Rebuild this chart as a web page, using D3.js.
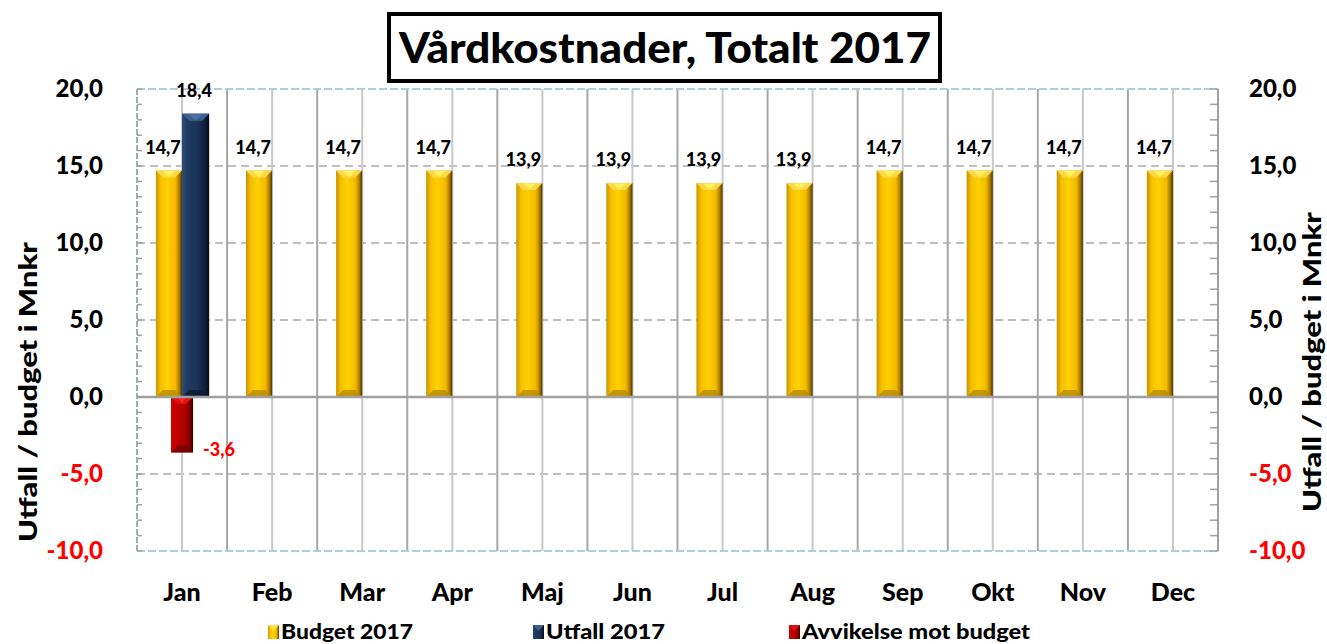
<!DOCTYPE html>
<html><head><meta charset="utf-8">
<script src="https://cdn.jsdelivr.net/npm/d3@7"></script>
<style>
html,body{margin:0;padding:0;background:#fff;}
text{font-family:Lato,"Open Sans",sans-serif;font-weight:900;}
</style></head>
<body><svg id="chart" width="1327" height="644"></svg>
<script>
const months = ["Jan","Feb","Mar","Apr","Maj","Jun","Jul","Aug","Sep","Okt","Nov","Dec"];
const budget2017 = [14.7,14.7,14.7,14.7,13.9,13.9,13.9,13.9,14.7,14.7,14.7,14.7];
const utfall2017 = [18.4,null,null,null,null,null,null,null,null,null,null,null];
const avvikelse = [-3.6,null,null,null,null,null,null,null,null,null,null,null];
const yTicks = [-10,-5,0,5,10,15,20];
const titleText = "Vårdkostnader, Totalt 2017";
const yTitle = "Utfall / budget i Mnkr";
const legendNames = ["Budget 2017","Utfall 2017","Avvikelse mot budget"];

const svg = d3.select("#chart");
const L = 137, R = 1218, T = 89, B = 551;
const x = d3.scaleBand().domain(months).range([L, R]).padding(0);
const y = d3.scaleLinear().domain([-10, 20]).range([B, T]);
const fmt = v => d3.format(".1f")(v).replace(".", ",").replace("\u2212", "-");

const defs = svg.append("defs");
function grad(id, stops){
  const g = defs.append("linearGradient").attr("id", id).attr("x1","0").attr("x2","1").attr("y1","0").attr("y2","0");
  stops.forEach(s => g.append("stop").attr("offset", s[0]).attr("stop-color", s[1]));
}
grad("gGold", [[0,"#c99400"],[0.18,"#f5c000"],[0.45,"#ffd000"],[0.75,"#f2b900"],[0.9,"#a57800"],[1,"#4a3400"]]);
grad("gNavy", [[0,"#2a4a74"],[0.2,"#1f3b62"],[0.6,"#1a3256"],[0.85,"#0f1f38"],[1,"#050b16"]]);
grad("gRed", [[0,"#d00000"],[0.2,"#c40000"],[0.6,"#b00000"],[0.85,"#800000"],[1,"#3a0000"]]);

const grid = svg.append("g");
yTicks.filter(v => v !== 0 && v !== 20 && v !== -10).forEach(v => {
  grid.append("line").attr("x1", L).attr("x2", R).attr("y1", y(v)).attr("y2", y(v))
    .attr("stroke", "#bfbfbf").attr("stroke-width", 2).attr("stroke-dasharray", "8,5");
});
months.forEach((m, i) => {
  if (i > 0) grid.append("line").attr("x1", x(m)).attr("x2", x(m)).attr("y1", T).attr("y2", B)
      .attr("stroke", "#a6a6a6").attr("stroke-width", 2);
  const c = x(m) + x.bandwidth() / 2;
  grid.append("line").attr("x1", c).attr("x2", c).attr("y1", T).attr("y2", B)
      .attr("stroke", "#c8c8c8").attr("stroke-width", 2);
});
[T, B].forEach(yy => grid.append("line").attr("x1", L).attr("x2", R).attr("y1", yy).attr("y2", yy)
  .attr("stroke", "#a9d0dc").attr("stroke-width", 2).attr("stroke-dasharray", "8,3"));
grid.append("line").attr("x1", L).attr("x2", L).attr("y1", T).attr("y2", B)
  .attr("stroke", "#a0aeb4").attr("stroke-width", 2).attr("stroke-dasharray", "6,2");
grid.append("line").attr("x1", R).attr("x2", R).attr("y1", T).attr("y2", B)
  .attr("stroke", "#a0a0a0").attr("stroke-width", 2);
d3.range(-10, 21, 1).forEach(v => {
  grid.append("line").attr("x1", L).attr("x2", L + 5).attr("y1", y(v)).attr("y2", y(v)).attr("stroke", "#a0a0a0").attr("stroke-width", 1.5);
  grid.append("line").attr("x1", R - 8).attr("x2", R).attr("y1", y(v)).attr("y2", y(v)).attr("stroke", "#a0a0a0").attr("stroke-width", 1.5);
});

function bar(g, x0, w, v, fillId, topCol, botCol, midCol) {
  const y0 = y(Math.max(0, v)), y1 = y(Math.min(0, v));
  const bv = Math.min(7, w / 3.2);
  g.append("rect").attr("x", x0).attr("y", y0).attr("width", w).attr("height", y1 - y0).attr("fill", `url(#${fillId})`);
  g.append("polygon").attr("points", [[x0,y0],[x0+w,y0],[x0+w-bv,y0+bv],[x0+bv,y0+bv]].map(p=>p.join(",")).join(" "))
    .attr("fill", topCol);
  g.append("polygon").attr("points", [[x0+bv,y0+0.5],[x0+w-bv,y0+0.5],[x0+w/2,y0+bv]].map(p=>p.join(",")).join(" "))
    .attr("fill", midCol);
  g.append("polygon").attr("points", [[x0,y1],[x0+w,y1],[x0+w-bv,y1-bv],[x0+bv,y1-bv]].map(p=>p.join(",")).join(" "))
    .attr("fill", botCol).attr("opacity", 0.8);
}

const bars = svg.append("g");
const bw = x.bandwidth() * 0.29;
const bwRed = x.bandwidth() * 0.245;
svg.append("line").attr("x1", L).attr("x2", R).attr("y1", y(0)).attr("y2", y(0))
  .attr("stroke", "#a0a0a0").attr("stroke-width", 2.5);

months.forEach((m, i) => {
  const c = x(m) + x.bandwidth() / 2;
  bar(bars, c - bw, bw, budget2017[i], "gGold", "#ffd84a", "#b88a00", "#fff25c");
  if (utfall2017[i] != null) bar(bars, c, bw + 1, utfall2017[i], "gNavy", "#3d5f8e", "#0d1a2e", "#4d70a3");
});
months.forEach((m, i) => {
  if (avvikelse[i] == null) return;
  const c = x(m) + x.bandwidth() / 2;
  bar(bars, c - bwRed / 2, bwRed, avvikelse[i], "gRed", "#e01010", "#700000", "#ff2020");
});

const lab = svg.append("g").attr("font-size", 18).attr("text-anchor", "middle");
months.forEach((m, i) => {
  const c = x(m) + x.bandwidth() / 2;
  lab.append("text").attr("x", c - bw / 2 - 6).attr("y", y(budget2017[i]) - 17).text(fmt(budget2017[i]));
  if (utfall2017[i] != null) lab.append("text").attr("x", c + bw / 2 - 1).attr("y", y(utfall2017[i]) - 17).text(fmt(utfall2017[i]));
  if (avvikelse[i] != null) lab.append("text").attr("x", c + bwRed / 2 + 10).attr("y", y(avvikelse[i]) + 4)
      .attr("text-anchor", "start").attr("fill", "#ff0000").text(fmt(avvikelse[i]));
});

yTicks.forEach(v => {
  svg.append("text").attr("x", 103).attr("y", y(v) + 8).attr("text-anchor", "end").attr("font-size", 24)
    .attr("fill", v < 0 ? "#ff0000" : "#000").text(fmt(v));
  svg.append("text").attr("x", 1249).attr("y", y(v) + 8).attr("text-anchor", "start").attr("font-size", 24)
    .attr("fill", v < 0 ? "#ff0000" : "#000").text(fmt(v));
});
months.forEach(m => {
  svg.append("text").attr("x", x(m) + x.bandwidth() / 2).attr("y", 601).attr("text-anchor", "middle")
    .attr("font-size", 25).text(m);
});
svg.append("text").attr("transform", "translate(37,392) rotate(-90)").attr("text-anchor", "middle")
  .attr("font-size", 25).attr("textLength", 300).attr("lengthAdjust", "spacingAndGlyphs").text(yTitle);
svg.append("text").attr("transform", "translate(1321,362) rotate(-90)").attr("text-anchor", "middle")
  .attr("font-size", 25).attr("textLength", 300).attr("lengthAdjust", "spacingAndGlyphs").text(yTitle);

svg.append("rect").attr("x", 389).attr("y", 14).attr("width", 551).attr("height", 67)
  .attr("fill", "#fff").attr("stroke", "#000").attr("stroke-width", 4);
svg.append("text").attr("x", 665).attr("y", 63).attr("text-anchor", "middle").attr("font-size", 42)
  .attr("textLength", 532).attr("lengthAdjust", "spacingAndGlyphs").text(titleText);

const legItems = [
  {name: legendNames[0], x: 268, fill: "gGold", top: "#ffe04a"},
  {name: legendNames[1], x: 533, fill: "gNavy", top: "#3d5f8e"},
  {name: legendNames[2], x: 789, fill: "gRed", top: "#e01010"}
];
const legWidths = [132, 119, 228];
legItems.forEach((it, i) => {
  const g = svg.append("g");
  g.append("rect").attr("x", it.x).attr("y", 625).attr("width", 11).attr("height", 14).attr("fill", `url(#${it.fill})`);
  g.append("polygon").attr("points", `${it.x},625 ${it.x+11},625 ${it.x+5.5},631`).attr("fill", it.top);
  g.append("text").attr("x", it.x + 13).attr("y", 639).attr("font-size", 20)
    .attr("textLength", legWidths[i]).attr("lengthAdjust", "spacingAndGlyphs").text(it.name);
});
</script></body></html>
